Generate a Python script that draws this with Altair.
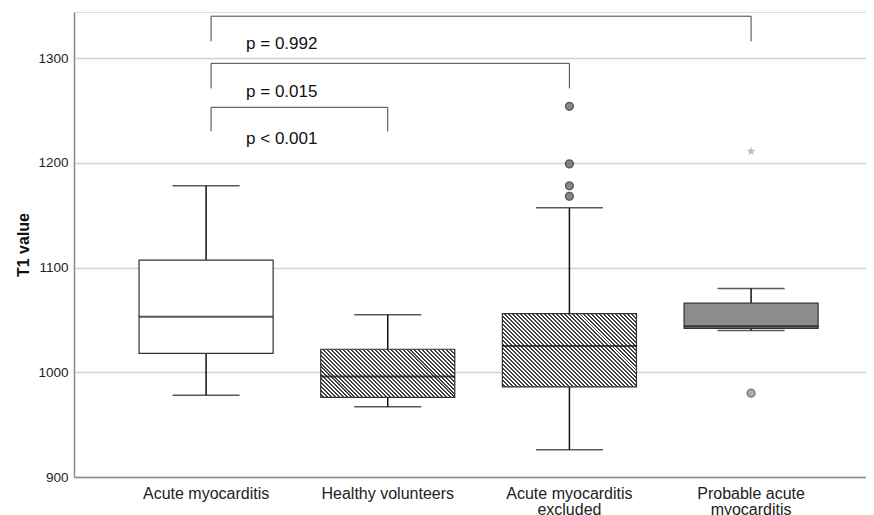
import altair as alt
import pandas as pd

# ---------------- data ----------------
categories = ["Acute myocarditis", "Healthy volunteers",
              "Acute myocarditis excluded", "Probable acute myocarditis"]
label_lines = [["Acute myocarditis"], ["Healthy volunteers"],
               ["Acute myocarditis", "excluded"], ["Probable acute", "myocarditis"]]
whisk_lo = [978, 967, 926, 1040]
q1 = [1018, 976, 986, 1042]
median = [1053, 996, 1025, 1044]
q3 = [1107, 1022, 1056, 1066]
whisk_hi = [1178, 1055, 1157, 1080]

outlier_cat = ["Acute myocarditis excluded"] * 4 + ["Probable acute myocarditis"]
outlier_val = [1254, 1199, 1178, 1168, 980]
outlier_kind = ["hatch", "hatch", "hatch", "hatch", "gray"]
extreme_cat = ["Probable acute myocarditis"]
extreme_val = [1211]

br_left = ["Acute myocarditis"] * 3
br_right = ["Probable acute myocarditis", "Acute myocarditis excluded", "Healthy volunteers"]
br_top = [1340, 1295, 1253]
br_bottom = [1316, 1271, 1230]
br_text = ["p = 0.992", "p = 0.015", "p < 0.001"]
br_text_y = [1313, 1268, 1223]

# ---------------- layout / style ----------------
W, H = 792, 465
Y_MIN, Y_MAX = 900, 1344
P_INNER, P_OUTER, ALIGN = 0.262, 0.3108, 0.576
FONT = "Liberation Sans"

step = W / (len(categories) - P_INNER + 2 * P_OUTER)
bw = step * (1 - P_INNER)
ypx = H / (Y_MAX - Y_MIN)

def hatch(w, h, period=4.0, dark="#404040", light="#ffffff"):
    k = (w + h) / (w * w + h * h)
    n = max(1, int(round((w + h) / period)))
    stops = []
    for j in range(n):
        a, m, b = j / n, (j + 0.5) / n, (j + 1) / n
        stops += [{"offset": a, "color": light}, {"offset": m, "color": light},
                  {"offset": m, "color": dark}, {"offset": b, "color": dark}]
    return {"gradient": "linear", "x1": 0, "y1": 1, "x2": k * w, "y2": 1 - k * h,
            "stops": stops}

boxes = pd.DataFrame({"cat": categories, "lo": whisk_lo, "q1": q1, "med": median,
                      "q3": q3, "hi": whisk_hi})
outl = pd.DataFrame({"cat": outlier_cat, "v": outlier_val, "kind": outlier_kind})
extr = pd.DataFrame({"cat": extreme_cat, "v": extreme_val})
brk = pd.DataFrame({"l": br_left, "r": br_right, "top": br_top, "bot": br_bottom,
                    "txt": br_text, "ty": br_text_y})

label_expr = " : ".join(
    f"datum.value == '{c}' ? {lines!r}" for c, lines in zip(categories, label_lines)
) + " : datum.label"

xscale = alt.Scale(domain=categories, paddingInner=P_INNER, paddingOuter=P_OUTER, align=ALIGN)
yscale = alt.Scale(domain=[Y_MIN, Y_MAX], nice=False, zero=False)

X = alt.X("cat:N", scale=xscale, sort=categories, title=None,
          axis=alt.Axis(labelExpr=label_expr, labelAngle=0, labelFont=FONT, labelFontSize=16,
                        labelColor="#222", labelLineHeight=16, labelPadding=8, ticks=False,
                        domainColor="#8a8a8a", domainWidth=1.5, grid=False, labelBaseline="top"))
Y = alt.Y("lo:Q", scale=yscale, title="T1 value",
          axis=alt.Axis(values=[900, 1000, 1100, 1200, 1300], format="d", grid=True,
                        gridColor="#d2d2d2", gridWidth=1.5, ticks=False, labelFont=FONT,
                        labelFontSize=13.5, labelColor="#222", labelPadding=6,
                        domainColor="#8a8a8a", domainWidth=1.5,
                        titleFont=FONT, titleFontSize=16, titleFontWeight="bold",
                        titleColor="#111", titlePadding=6))

base = alt.Chart(boxes)

stem_lo = base.mark_rule(color="#111", strokeWidth=1.5).encode(x=X, y=Y, y2="q1:Q")
stem_hi = base.mark_rule(color="#111", strokeWidth=1.5).encode(
    x=X, y=alt.Y("q3:Q", scale=yscale), y2="hi:Q")
cap_lo = base.mark_tick(color="#111", size=bw / 2, thickness=1.5).encode(
    x=X, y=alt.Y("lo:Q", scale=yscale))
cap_hi = base.mark_tick(color="#111", size=bw / 2, thickness=1.5).encode(
    x=X, y=alt.Y("hi:Q", scale=yscale))

fills = ["#ffffff", None, None, "#8e8b8b"]
box_layers = []
for i, c in enumerate(categories):
    f = fills[i]
    if f is None:
        f = hatch(bw, (q3[i] - q1[i]) * ypx)
    box_layers.append(
        base.transform_filter(alt.datum.cat == c)
        .mark_bar(fill=f, stroke="#333", strokeWidth=1.2)
        .encode(x=X, y=alt.Y("q1:Q", scale=yscale), y2="q3:Q")
    )

med = base.mark_tick(color="#111", size=bw, thickness=2).encode(
    x=X, y=alt.Y("med:Q", scale=yscale))

outl_chart = alt.Chart(outl).mark_point(filled=True, size=60, strokeWidth=1.5).encode(
    x=X, y=alt.Y("v:Q", scale=yscale),
    fill=alt.Fill("kind:N", scale=alt.Scale(domain=["hatch", "gray"], range=["#555555", "#8e8b8b"]),
                  legend=None),
    stroke=alt.Stroke("kind:N", scale=alt.Scale(domain=["hatch", "gray"], range=["#1a1a1a", "#444"]),
                      legend=None),
)

star_path = ("M0,-1L0.235,-0.324L0.951,-0.309L0.38,0.124L0.588,0.809L0,0.4L-0.588,0.809"
             "L-0.38,0.124L-0.951,-0.309L-0.235,-0.324Z")
extr_chart = alt.Chart(extr).mark_point(shape=star_path, filled=True, size=90,
                                        color="#a3a3a3").encode(
    x=X, y=alt.Y("v:Q", scale=yscale))

bb = alt.Chart(brk)
br_h = bb.mark_rule(color="#444", strokeWidth=1, xOffset=5).encode(
    x=alt.X("l:N", scale=xscale, sort=categories), x2="r:N", y=alt.Y("top:Q", scale=yscale))
br_vl = bb.mark_rule(color="#444", strokeWidth=1, xOffset=5).encode(
    x=alt.X("l:N", scale=xscale, sort=categories), y=alt.Y("top:Q", scale=yscale), y2="bot:Q")
br_vr = bb.mark_rule(color="#444", strokeWidth=1).encode(
    x=alt.X("r:N", scale=xscale, sort=categories), y=alt.Y("top:Q", scale=yscale), y2="bot:Q")
br_t = bb.mark_text(align="left", baseline="middle", dx=40, font=FONT, fontSize=17,
                    color="#111").encode(
    x=alt.X("l:N", scale=xscale, sort=categories), y=alt.Y("ty:Q", scale=yscale), text="txt:N")

chart = alt.layer(
    stem_lo, stem_hi, cap_lo, cap_hi, *box_layers, med, outl_chart, extr_chart,
    br_h, br_vl, br_vr, br_t
).properties(
    width=W, height=H,
    autosize=alt.AutoSizeParams(type="none"),
    padding={"left": 66, "top": 4, "right": 0, "bottom": 42},
).configure_view(stroke=None).configure(background="white")

chart.save("out.html", embed_options={"renderer": "svg", "actions": False})
